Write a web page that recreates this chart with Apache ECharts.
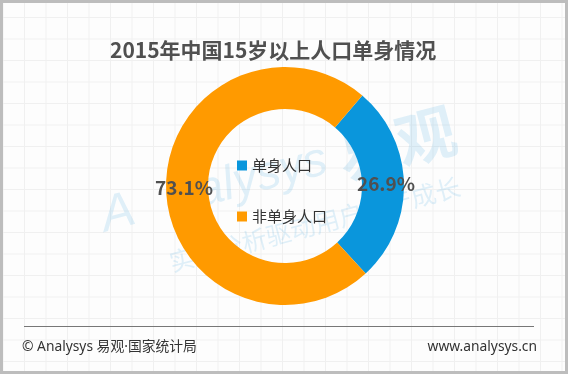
<!DOCTYPE html>
<html>
<head>
<meta charset="utf-8">
<script src="https://cdn.jsdelivr.net/npm/echarts@6/dist/echarts.min.js"></script>
<style>
html,body{margin:0;padding:0;background:#fdfdfd;}
#wrap{position:relative;width:568px;height:374px;
  background-color:#fdfdfd;
  background-image:linear-gradient(#f0f0f0 1px, transparent 1px),linear-gradient(90deg,#f0f0f0 1px, transparent 1px);
  background-size:21.5px 21.5px;background-position:2.5px -4.5px;}
#chart{position:absolute;left:0;top:0;width:568px;height:374px;}
#frame{position:absolute;left:0;top:0;width:568px;height:374px;box-sizing:border-box;border:3px solid #bdbdbd;pointer-events:none;}
</style>
</head>
<body>
<div id="wrap"><div id="chart"></div><div id="frame"></div></div>
<script>
var titleText = '2015年中国15岁以上人口单身情况';
var categories = ['单身人口', '非单身人口'];
var values = [26.9, 73.1];
var colors = ['#0a96dc', '#ff9a00'];
var sourceText = '© Analysys 易观·国家统计局';
var siteText = 'www.analysys.cn';

var chart = echarts.init(document.getElementById('chart'));
var FONT = '"Noto Sans CJK SC","Noto Sans",sans-serif';
var LFONT = '"Noto Sans","Noto Sans CJK SC",sans-serif';
var wm = 'rgba(20,150,220,0.13)';
chart.setOption({
  animation: false,
  color: colors,
  title: {
    text: titleText,
    left: 105, top: 35,
    textStyle: {fontSize: 21, fontWeight: 'bold', color: '#505050', fontFamily: FONT}
  },
  legend: {
    orient: 'vertical',
    left: 232, top: 153,
    icon: 'rect', itemWidth: 10, itemHeight: 10, itemGap: 36,
    data: categories,
    textStyle: {fontSize: 15, color: '#333', fontFamily: FONT}
  },
  series: [{
    type: 'pie',
    center: [285, 186],
    radius: [77, 119],
    startAngle: 49.5,
    avoidLabelOverlap: false,
    label: {
      show: true, position: 'inside',
      formatter: function (p) { return p.value.toFixed(1) + '%'; },
      fontSize: 19, fontWeight: 'bold', color: '#505050', fontFamily: FONT
    },
    labelLine: {show: false},
    emphasis: {disabled: true},
    data: categories.map(function (c, i) { return {name: c, value: values[i]}; })
  }],
  graphic: [
    {type: 'line', shape: {x1: 24, y1: 326.5, x2: 534, y2: 326.5}, style: {stroke: '#777', lineWidth: 1}},
    {type: 'text', left: 22, top: 340, style: {text: sourceText, font: '13.8px ' + LFONT, fill: '#333'}},
    {type: 'text', right: 31, top: 340, style: {text: siteText, font: '13.8px ' + LFONT, fill: '#333'}},
    {type: 'group', x: 178, y: 224, rotation: 0.26, z: 100, silent: true, children: [
      {type: 'text', x: -72, y: 0, style: {text: 'A', font: 'italic 50px "Liberation Sans"', fill: wm, verticalAlign: 'bottom'}},
      {type: 'text', x: 0, y: 0, style: {text: 'nalysys', font: 'italic 48px "Liberation Sans"', fill: wm, verticalAlign: 'bottom'}},
      {type: 'text', x: 172, y: 8, style: {text: '易观', font: 'bold 60px ' + FONT, fill: wm, verticalAlign: 'bottom'}},
      {type: 'text', x: -18, y: 48, style: {text: '实时分析驱动用户资产成长', font: '25px ' + FONT, fill: wm, verticalAlign: 'bottom'}}
    ]}
  ]
});
</script>
</body>
</html>
